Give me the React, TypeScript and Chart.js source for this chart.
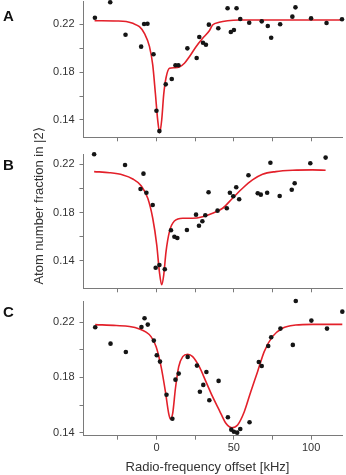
import React, { useEffect, useRef } from 'react';
import { Chart, registerables } from 'chart.js';

Chart.register(...registerables);

// ---------- data ----------
const X_MIN = -47.5;
const X_MAX = 120;
const X_TICKS = [-25, 0, 25, 50, 75, 100];
const Y_TICKS = [0.14, 0.16, 0.18, 0.2, 0.22];

const A_X = [-39.8, -29.9, -20, -9.9, -8, -5.8, -1.9, 0, 1.9, 6, 9.9, 12.3, 14.2, 20, 26, 27.7, 30.1, 32, 33.9, 40, 46, 48.1, 50.1, 51.8, 54.2, 60, 68.1, 72, 74.2, 80, 87.9, 89.9, 100, 110, 120];
const A_Y = [0.2255, 0.2384, 0.2113, 0.2013, 0.2203, 0.2205, 0.1949, 0.1477, 0.1307, 0.1698, 0.1742, 0.1857, 0.1857, 0.1999, 0.1918, 0.2094, 0.2046, 0.2029, 0.2197, 0.2167, 0.2334, 0.2136, 0.2152, 0.2334, 0.2244, 0.2213, 0.2225, 0.2186, 0.2088, 0.22, 0.2264, 0.2342, 0.225, 0.2211, 0.2242];
const A_FIT_X = [-40, -26, -19.6, -15.3, -11, -7.8, -4.5, -2.4, -0.7, 0.8, 2.1, 3.4, 4.7, 6.2, 8.4, 11.6, 14.8, 18.1, 21.3, 25.6, 29.9, 34.2, 36.3, 40.6, 46, 53.5, 120];
const A_FIT_Y = [0.223, 0.2228, 0.2224, 0.2208, 0.218, 0.2125, 0.2013, 0.186, 0.1623, 0.14, 0.1293, 0.14, 0.1614, 0.1753, 0.1832, 0.1837, 0.1843, 0.1874, 0.1929, 0.2013, 0.2083, 0.2146, 0.2194, 0.2217, 0.223, 0.2236, 0.2236];

const B_X = [-40.3, -20.3, -10.3, -8.4, -6.5, -2.4, -0.5, 1.9, 5.4, 9.4, 11.6, 13.5, 19.7, 25.6, 27.5, 29.7, 31.6, 33.7, 39.5, 45.5, 47.5, 49.7, 51.6, 53.5, 59.5, 65.5, 67.5, 71.6, 73.7, 79.7, 87.5, 89.4, 99.5, 109.4];
const B_Y = [0.2283, 0.2194, 0.1995, 0.2122, 0.1964, 0.1862, 0.1342, 0.1364, 0.1329, 0.1652, 0.1599, 0.1588, 0.1655, 0.1782, 0.169, 0.1727, 0.1777, 0.1968, 0.1815, 0.1835, 0.1964, 0.1934, 0.2009, 0.191, 0.2109, 0.1959, 0.1948, 0.1964, 0.2213, 0.1937, 0.1989, 0.2042, 0.2208, 0.2255];
const B_FIT_X = [-40.3, -30.3, -21.7, -15.3, -9.9, -5.6, -2.4, 0.2, 1.9, 3.4, 4.7, 6.2, 8.4, 11.6, 17, 23.4, 29.9, 36.3, 42.8, 49.2, 55.7, 62.1, 68.6, 77.2, 88, 100.8, 109.4];
const B_FIT_Y = [0.2139, 0.213, 0.2111, 0.2078, 0.2022, 0.1918, 0.1752, 0.153, 0.1309, 0.12, 0.1281, 0.1475, 0.1641, 0.1729, 0.1752, 0.1752, 0.1765, 0.1793, 0.1835, 0.1918, 0.2001, 0.207, 0.2117, 0.2139, 0.215, 0.2153, 0.215];

const C_X = [-39.6, -29.7, -19.8, -9.7, -7.7, -5.6, -1.7, 0.2, 2.3, 6.5, 10.3, 12.3, 14.4, 20.2, 26.2, 28.1, 30.3, 32.3, 34.2, 40.2, 46.2, 48.4, 50.1, 52.2, 54.2, 60.2, 66.2, 68.1, 72.3, 74.2, 80.2, 88.2, 90.1, 100.2, 110.3, 120.2];
const C_Y = [0.2164, 0.2045, 0.1985, 0.2166, 0.2229, 0.2183, 0.2067, 0.1961, 0.1915, 0.1675, 0.1501, 0.1784, 0.1828, 0.1949, 0.1886, 0.1697, 0.1746, 0.184, 0.1635, 0.1775, 0.1512, 0.1422, 0.1407, 0.14, 0.1427, 0.1475, 0.1912, 0.1883, 0.2028, 0.2091, 0.2154, 0.2036, 0.2354, 0.2212, 0.2154, 0.2277];
const C_FIT_X = [-39.6, -26, -17.4, -11, -6.7, -3.5, -0.2, 3, 5.8, 7.9, 9, 10.5, 12.3, 14.4, 17, 20.2, 23.4, 27.7, 32, 36.3, 40.6, 44.9, 48.8, 52.5, 56.8, 61, 65.4, 69.7, 75, 81.5, 90.1, 100.8, 120.2];
const C_FIT_Y = [0.2183, 0.2176, 0.2169, 0.2152, 0.2128, 0.2096, 0.2023, 0.1878, 0.1697, 0.154, 0.1499, 0.154, 0.1722, 0.1878, 0.1951, 0.1968, 0.1951, 0.1878, 0.177, 0.1661, 0.1564, 0.1468, 0.1436, 0.1456, 0.1552, 0.1697, 0.1842, 0.1987, 0.2096, 0.2157, 0.218, 0.2185, 0.2185];

const X_TITLE = 'Radio-frequency offset [kHz]';
const Y_TITLE = 'Atom number fraction in |2\u27E9';

// ---------- style ----------
const FONT = "'Liberation Sans', Arial, Helvetica, sans-serif";
const RED = '#e3202a';
const DOT = '#151515';
const AXIS = '#7a7a7a';
const TEXT = '#333333';

type PanelProps = {
  top: number;
  height: number;
  padTop: number;
  xAxisH: number;
  yMin: number;
  yMax: number;
  px: number[];
  py: number[];
  fx: number[];
  fy: number[];
  xLabels: boolean;
};

function Panel(p: PanelProps) {
  const ref = useRef<HTMLCanvasElement | null>(null);
  useEffect(() => {
    if (!ref.current) return;
    const chart = new Chart(ref.current, {
      type: 'scatter',
      data: {
        datasets: [
          {
            data: p.px.map((x, i) => ({ x, y: p.py[i] })),
            showLine: false,
            pointRadius: 2.3,
            pointBackgroundColor: DOT,
            pointBorderWidth: 0,
            clip: false,
          } as any,
          {
            data: p.fx.map((x, i) => ({ x, y: p.fy[i] })),
            showLine: true,
            borderColor: RED,
            borderWidth: 1.6,
            pointRadius: 0,
            tension: 0.4,
            cubicInterpolationMode: 'monotone',
            clip: false,
          } as any,
        ],
      },
      options: {
        responsive: false,
        animation: false,
        devicePixelRatio: 1,
        layout: { padding: { top: p.padTop, right: 3.5, bottom: 0, left: 0 } },
        plugins: { legend: { display: false }, tooltip: { enabled: false } },
        scales: {
          x: {
            type: 'linear',
            min: X_MIN,
            max: X_MAX,
            afterBuildTicks: (s: any) => {
              s.ticks = X_TICKS.map((v) => ({ value: v }));
            },
            afterFit: (s: any) => {
              s.height = p.xAxisH;
            },
            grid: { drawOnChartArea: false, drawTicks: true, tickLength: 4, color: AXIS },
            border: { display: true, color: AXIS, width: 1 },
            ticks: {
              display: p.xLabels,
              padding: 2,
              maxRotation: 0,
              autoSkip: false,
              color: TEXT,
              font: { family: FONT, size: 11 },
              callback: (v: any) => (Number(v) % 50 === 0 ? String(v) : ''),
            },
          },
          y: {
            type: 'linear',
            min: p.yMin,
            max: p.yMax,
            afterBuildTicks: (s: any) => {
              s.ticks = Y_TICKS.map((v) => ({ value: v }));
            },
            afterFit: (s: any) => {
              s.width = 83;
            },
            grid: { drawOnChartArea: false, drawTicks: true, tickLength: 3.5, color: AXIS },
            border: { display: true, color: AXIS, width: 1 },
            ticks: {
              padding: 5,
              autoSkip: false,
              color: TEXT,
              font: { family: FONT, size: 11 },
              callback: (v: any) => {
                const k = Math.round(Number(v) * 100);
                return k % 4 === 2 ? (k / 100).toFixed(2) : '';
              },
            },
          },
        },
      } as any,
    });
    return () => chart.destroy();
  }, []);
  return (
    <canvas
      ref={ref}
      width={346}
      height={p.height}
      style={{ position: 'absolute', left: 0, top: p.top, width: 346, height: p.height }}
    />
  );
}

const letterStyle = (top: number): React.CSSProperties => ({
  position: 'absolute',
  left: 3,
  top,
  fontFamily: FONT,
  fontWeight: 'bold',
  fontSize: 15,
  lineHeight: '15px',
  color: '#111',
});

export default function App() {
  return (
    <div
      style={{
        position: 'fixed',
        left: 0,
        top: 0,
        width: 346,
        height: 475,
        overflow: 'hidden',
        background: '#fff',
      }}
    >
      <Panel top={-13} height={165} padTop={14} xAxisH={14.7} yMin={0.1255} yMax={0.2395} px={A_X} py={A_Y} fx={A_FIT_X} fy={A_FIT_Y} xLabels={false} />
      <Panel top={140} height={163} padTop={14} xAxisH={14.7} yMin={0.1171} yMax={0.2285} px={B_X} py={B_Y} fx={B_FIT_X} fy={B_FIT_Y} xLabels={false} />
      <Panel top={288} height={187} padTop={13.7} xAxisH={39.3} yMin={0.1378} yMax={0.2349} px={C_X} py={C_Y} fx={C_FIT_X} fy={C_FIT_Y} xLabels={true} />
      <div style={letterStyle(8)}>A</div>
      <div style={letterStyle(157.3)}>B</div>
      <div style={letterStyle(304)}>C</div>
      <div
        style={{
          position: 'absolute',
          left: 38.3,
          top: 206,
          transform: 'translate(-50%, -50%) rotate(-90deg)',
          whiteSpace: 'nowrap',
          fontFamily: FONT,
          fontSize: 13,
          lineHeight: '15px',
          color: TEXT,
        }}
      >
        {Y_TITLE}
      </div>
      <div
        style={{
          position: 'absolute',
          left: 207.5,
          top: 459.3,
          transform: 'translateX(-50%)',
          whiteSpace: 'nowrap',
          fontFamily: FONT,
          fontSize: 13,
          lineHeight: '15px',
          color: TEXT,
        }}
      >
        {X_TITLE}
      </div>
    </div>
  );
}
